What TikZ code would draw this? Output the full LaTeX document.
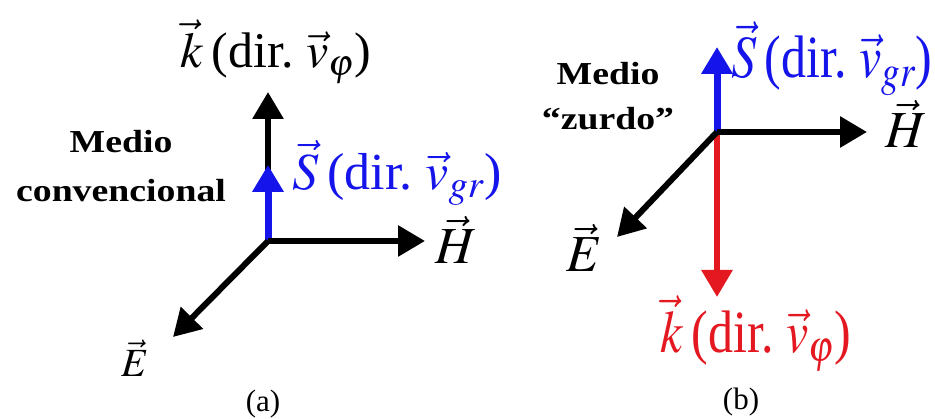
\documentclass[tikz,border=0pt]{standalone}
\usepackage{graphicx}
\usepackage{mathptmx}
\usepackage{fontspec}
\setmainfont{Liberation Serif}
\usetikzlibrary{arrows.meta, positioning}

\definecolor{sblue}{RGB}{20,20,235}
\definecolor{kred}{RGB}{228,24,32}
\newcommand{\widetxt}[1]{\scalebox{1.18}[1]{#1}}
\newcommand{\talltxt}[1]{\scalebox{1}[1.2]{#1}}

\begin{document}
\begin{tikzpicture}[
  x=1pt, y=1pt,
  vec/.style={line width=6pt, -{Triangle[length=27pt,width=30pt]}},
  lbl/.style={font=\fontsize{50}{56}\selectfont, inner sep=0pt, anchor=base west},
  medio/.style={font=\fontsize{32}{38}\selectfont\bfseries, inner sep=0pt, anchor=base},
  caption/.style={font=\fontsize{31}{36}\selectfont, inner sep=0pt, anchor=base}
]
  \useasboundingbox (0,0) rectangle (935,419);

  % (a) medio convencional
  \coordinate (oA) at (268,178);
  \coordinate (kA) at (268,327);
  \coordinate (sA) at (268,254);
  \coordinate (hA) at (425,178);
  \coordinate (eA) at (173,82);

  \draw [vec] (oA) -- (kA);
  \draw [vec, sblue, line width=7pt] (oA) -- (sA);
  \draw [vec] (oA) -- (hA);
  \draw [vec] (oA) -- (eA);

  \node (kAlbl) [lbl] at (180,351) {$\vec{k}$\,(dir.\ $\vec{v}_{\varphi}$)};
  \node (sAlbl) [lbl, sblue, font=\fontsize{52}{58}\selectfont] at (292,229) {$\vec{S}$\,(dir.\ $\vec{v}_{gr}$)};
  \node (hAlbl) [lbl, font=\fontsize{52}{58}\selectfont] at (435,155) {$\vec{H}$};
  \node (eAlbl) [lbl, font=\fontsize{40}{46}\selectfont] at (121,42) {$\vec{E}$};
  \node (mA) [medio] at (121,266) {\widetxt{Medio}};
  \node (mAb) [medio] at (121,217) {\widetxt{convencional}};
  \node (capA) [caption] at (263,7) {(a)};

  % (b) medio zurdo
  \coordinate (oB) at (717,287);
  \coordinate (sB) at (717,372);
  \coordinate (hB) at (867,287);
  \coordinate (kB) at (717,122);
  \coordinate (eB) at (617,182);

  \draw [vec, kred] (oB) -- (kB);
  \draw [vec, sblue, line width=7pt] (oB) -- (sB);
  \draw [vec] (oB) -- (hB);
  \draw [vec] (oB) -- (eB);

  \node (sBlbl) [lbl, sblue] at (731,341) {\talltxt{$\vec{S}$\,(dir.\ $\vec{v}_{gr}$)}};
  \node (hBlbl) [lbl, font=\fontsize{52}{58}\selectfont] at (885,271) {$\vec{H}$};
  \node (eBlbl) [lbl, font=\fontsize{52}{58}\selectfont] at (566,147) {$\vec{E}$};
  \node (kBlbl) [lbl, kred] at (660,66) {\talltxt{$\vec{k}$\,(dir.\ $\vec{v}_{\varphi}$)}};
  \node (mB) [medio] at (608,334) {\widetxt{Medio}};
  \node (mBb) [medio] at (608,289) {\widetxt{``zurdo''}};
  \node (capB) [caption] at (741,9) {(b)};
\end{tikzpicture}
\end{document}
